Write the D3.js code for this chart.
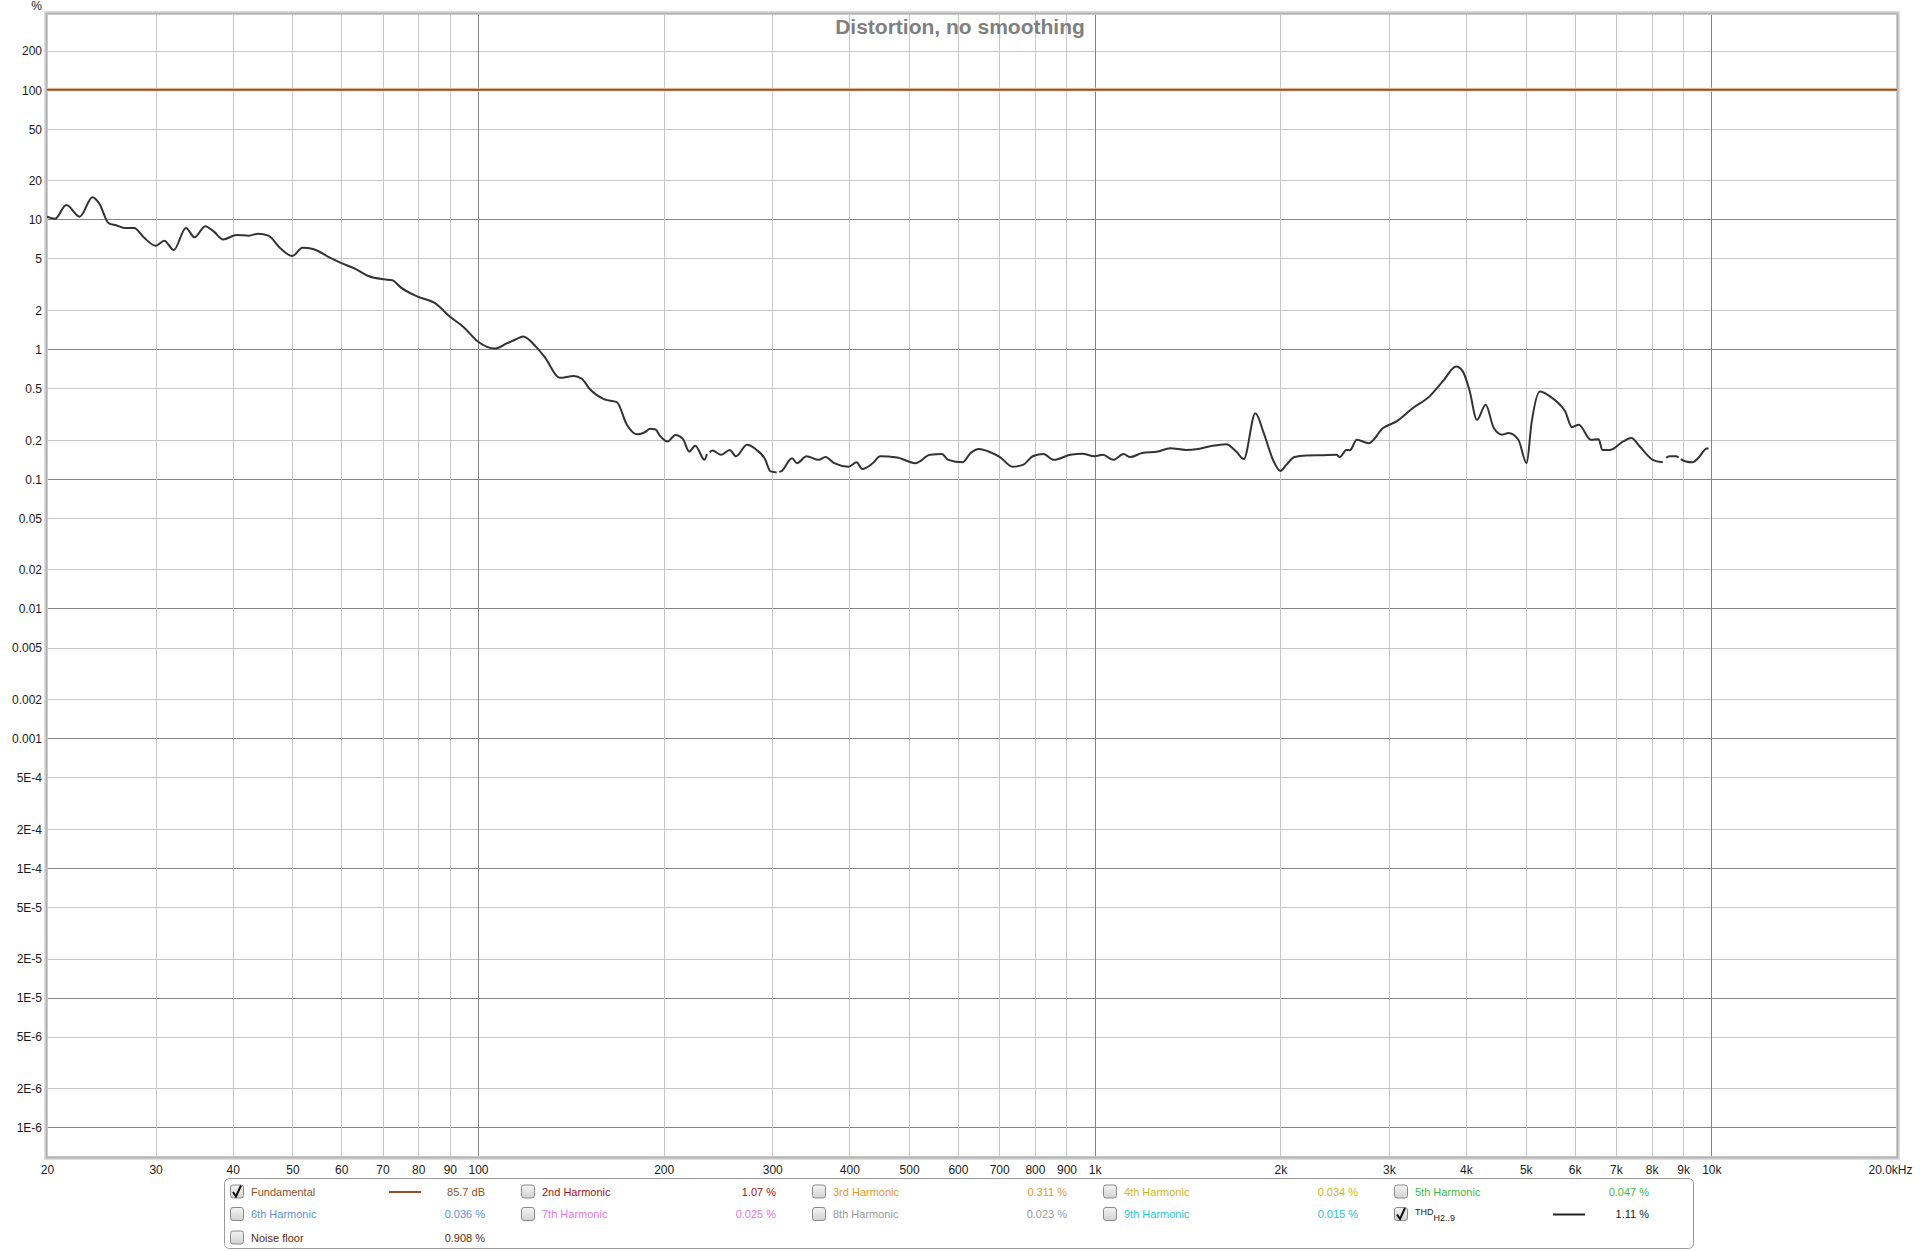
<!DOCTYPE html>
<html>
<head>
<meta charset="utf-8">
<script src="https://cdn.jsdelivr.net/npm/d3@7"></script>
<style>
  body { margin: 0; background: #fff; }
  svg { display: block; font-family: "Liberation Sans", Arial, sans-serif; }
</style>
</head>
<body>
<div id="chart"></div>
<script>
// THD H2..9 trace, frequency (Hz) and level (%), null = gap in trace
var thdFreq = [20, 20.6, 21.5, 22.6, 23.7, 24.3, 25.2, 25.9, 26.7, 27.7, 28.7, 30, 31, 32.1, 33.6, 34.7, 36.1, 37.3, 38.6,
  40.6, 42.5, 44, 45.7, 47.8, 50, 51.9, 54, 57.5, 59.8, 63.5, 66.4, 70.4, 72.6, 74.9, 79.8, 85.2, 89.9, 94.9, 99.8,
  106.6, 111.5, 114.9, 118.4, 124, 128.6, 135.6, 143, 147.3, 151.9, 160.3, 167.9, 174.4, 181.3, 186.9, 190, 194, 197,
  203, 209, 215, 220, 225, 233, 235, 236, 237.5, 240, 248, 256, 262, 273, 283, 292, 298, 305, 306.5, 308, 310, 323, 329, 341, 357,
  366, 378, 399, 411, 420, 436, 449, 478, 512, 541, 565, 579, 611, 629, 650, 671, 702, 736, 765, 795, 826, 858, 913,
  955, 999, 1031, 1072, 1114, 1141, 1194, 1266, 1325, 1407, 1471, 1539, 1634, 1697, 1745, 1822, 1880, 1946, 2000,
  2045, 2109, 2204, 2346, 2467, 2497, 2560, 2593, 2661, 2782, 2935, 3085, 3281, 3491, 3668, 3857, 3953, 4051, 4167,
  4305, 4438, 4576, 4689, 4864, 5017, 5110, 5272, 5473, 5683, 5792, 5941, 6096, 6375, 6567, 6654, 6852, 7195, 7418,
  7648, 8036, 8340, 8400, 8450, 8550, 8764, 8850, 8880, 8920, 9092, 9318, 9530, 9833, 9894];
var thdPct = [10.5, 10.1, 12.9, 10.5, 14.8, 13.3, 9.3, 9.0, 8.6, 8.6, 7.27, 6.27, 6.85, 5.8, 8.6, 7.27, 8.87, 8.04, 7.0,
  7.58, 7.49, 7.76, 7.49, 5.99, 5.22, 6.05, 5.91, 5.07, 4.64, 4.12, 3.66, 3.45, 3.4, 2.99, 2.54, 2.26, 1.79, 1.47, 1.15,
  1.01, 1.11, 1.18, 1.25, 1.05, 0.853, 0.6, 0.62, 0.59, 0.49, 0.41, 0.39, 0.26, 0.22, 0.23, 0.243, 0.24, 0.216,
  0.194, 0.218, 0.202, 0.162, 0.18, 0.14, 0.155, null, 0.16, 0.165, 0.153, 0.167, 0.149, 0.183, 0.167, 0.142, 0.114, 0.112, null, 0.113, 0.114, 0.144, 0.132, 0.149, 0.14,
  0.147, 0.132, 0.124, 0.134, 0.119, 0.131, 0.149, 0.146, 0.132, 0.153, 0.155, 0.14, 0.134, 0.158, 0.17, 0.163, 0.147, 0.124, 0.128, 0.15, 0.155, 0.14, 0.153,
  0.156, 0.149, 0.153, 0.14, 0.155, 0.147, 0.158, 0.162, 0.172, 0.167, 0.17, 0.178, 0.185, 0.162, 0.142, 0.32, 0.225, 0.14, 0.115,
  0.128, 0.147, 0.151, 0.152, 0.153, 0.147, 0.167, 0.166, 0.2, 0.188, 0.246, 0.277, 0.351, 0.432, 0.563, 0.735, 0.673, 0.486, 0.285,
  0.372, 0.246, 0.219, 0.225, 0.2, 0.132, 0.27, 0.471, 0.432, 0.372, 0.331, 0.25, 0.261, 0.2, 0.202, 0.167, 0.167, 0.194, 0.206,
  0.178, 0.14, 0.134, null, 0.145, 0.149, 0.149, 0.146, null, 0.142, 0.136, 0.134, 0.145, 0.171, 0.171];

// Fundamental, 100 % across the band
var fundFreq = [20, 20000];
var fundPct = [100, 100];

// axis ticks
var yTicks = [200, 100, 50, 20, 10, 5, 2, 1, 0.5, 0.2, 0.1, 0.05, 0.02, 0.01, 0.005, 0.002, 0.001,
  5e-4, 2e-4, 1e-4, 5e-5, 2e-5, 1e-5, 5e-6, 2e-6, 1e-6];
var yTickLabels = ["200", "100", "50", "20", "10", "5", "2", "1", "0.5", "0.2", "0.1", "0.05", "0.02", "0.01",
  "0.005", "0.002", "0.001", "5E-4", "2E-4", "1E-4", "5E-5", "2E-5", "1E-5", "5E-6", "2E-6", "1E-6"];
var xTicks = [20, 30, 40, 50, 60, 70, 80, 90, 100, 200, 300, 400, 500, 600, 700, 800, 900,
  1000, 2000, 3000, 4000, 5000, 6000, 7000, 8000, 9000, 10000, 20000];
var xTickLabels = ["20", "30", "40", "50", "60", "70", "80", "90", "100", "200", "300", "400", "500", "600", "700",
  "800", "900", "1k", "2k", "3k", "4k", "5k", "6k", "7k", "8k", "9k", "10k", "20.0kHz"];

// legend
var legendNames = ["Fundamental", "2nd Harmonic", "3rd Harmonic", "4th Harmonic", "5th Harmonic",
  "6th Harmonic", "7th Harmonic", "8th Harmonic", "9th Harmonic", "THD", "Noise floor"];
var legendValues = ["85.7 dB", "1.07 %", "0.311 %", "0.034 %", "0.047 %",
  "0.036 %", "0.025 %", "0.023 %", "0.015 %", "1.11 %", "0.908 %"];
var legendColors = ["#8e5226", "#a3101a", "#e39a2c", "#cdb51c", "#3fba3f",
  "#5f8fd9", "#e277de", "#9a9a9a", "#1fc6d6", "#222222", "#5a2c12"];
var legendChecked = [true, false, false, false, false, false, false, false, false, true, false];

var width = 1920, height = 1251;
var pLeft = 47, pRight = 1897, pTop = 14, pBottom = 1157;

var svg = d3.select("#chart").append("svg")
  .attr("width", width).attr("height", height);

var x = d3.scaleLog().domain([20, 20000]).range([pLeft, pRight]);
var y = d3.scaleLog().domain([383.3, 5.9e-7]).range([pTop, pBottom]);

function isDecade(v) {
  var l = Math.log10(v);
  return Math.abs(l - Math.round(l)) < 1e-6;
}

// plot background
svg.append("rect").attr("x", pLeft).attr("y", pTop)
  .attr("width", pRight - pLeft).attr("height", pBottom - pTop).attr("fill", "#fff");

// grid
var grid = svg.append("g");
grid.selectAll(".hg").data(yTicks.slice().sort(function (a, b) { return isDecade(a) - isDecade(b); }))
  .enter().append("line")
  .attr("x1", pLeft).attr("x2", pRight)
  .attr("y1", function (d) { return Math.round(y(d)) + 0.5; })
  .attr("y2", function (d) { return Math.round(y(d)) + 0.5; })
  .attr("stroke", function (d) { return isDecade(d) ? "#858585" : "#c6c6c6"; })
  .attr("stroke-width", 1);

var vTicks = xTicks.filter(function (d) { return d > 20 && d < 20000; })
  .sort(function (a, b) { return isDecade(a) - isDecade(b); });
grid.selectAll(".vg").data(vTicks)
  .enter().append("line")
  .attr("y1", pTop).attr("y2", pBottom)
  .attr("x1", function (d) { return Math.round(x(d)) + 0.5; })
  .attr("x2", function (d) { return Math.round(x(d)) + 0.5; })
  .attr("stroke", function (d) { return isDecade(d) ? "#858585" : "#c6c6c6"; })
  .attr("stroke-width", 1);

// frame
svg.append("rect").attr("x", pLeft - 1).attr("y", pTop - 1)
  .attr("width", pRight - pLeft + 2).attr("height", pBottom - pTop + 2)
  .attr("fill", "none").attr("stroke", "#dedede").attr("stroke-width", 4);
svg.append("rect").attr("x", pLeft - 0.5).attr("y", pTop - 0.5)
  .attr("width", pRight - pLeft + 1).attr("height", pBottom - pTop + 1)
  .attr("fill", "none").attr("stroke", "#b3b3b3").attr("stroke-width", 2);

// y axis
var yAxis = d3.axisLeft(y).tickValues(yTicks).tickSize(0).tickPadding(0)
  .tickFormat(function (d, i) { return yTickLabels[i]; });
var gy = svg.append("g").attr("transform", "translate(42,0)").call(yAxis);
gy.select(".domain").remove();
gy.selectAll("text").attr("font-size", 12).attr("fill", "#1a1a1a")
  .attr("font-family", "'Liberation Sans', Arial, sans-serif").attr("dy", "0.36em");

svg.append("text").attr("x", 42).attr("y", 10).attr("text-anchor", "end")
  .attr("font-size", 12).attr("fill", "#1a1a1a").text("%");

// x axis
var xAxis = d3.axisBottom(x).tickValues(xTicks).tickSize(0).tickPadding(0)
  .tickFormat(function (d, i) { return xTickLabels[i]; });
var gx = svg.append("g").attr("transform", "translate(0,1163)").call(xAxis);
gx.select(".domain").remove();
gx.selectAll("text").attr("font-size", 12).attr("fill", "#1a1a1a")
  .attr("font-family", "'Liberation Sans', Arial, sans-serif").attr("dy", "0.9em");
gx.selectAll(".tick").filter(function (d) { return d === 20000; }).select("text")
  .attr("text-anchor", "end").attr("x", 15);

// title
svg.append("text").attr("x", 960).attr("y", 34).attr("text-anchor", "middle")
  .attr("font-size", 21).attr("font-weight", "bold").attr("fill", "#7f7f7f")
  .text("Distortion, no smoothing");

// curves
svg.append("clipPath").attr("id", "plotclip").append("rect")
  .attr("x", pLeft).attr("y", pTop).attr("width", pRight - pLeft).attr("height", pBottom - pTop);

var line = d3.line()
  .defined(function (d) { return d[1] != null; })
  .x(function (d) { return x(d[0]); })
  .y(function (d) { return y(d[1]); })
  .curve(d3.curveMonotoneX);

var fundData = d3.zip(fundFreq, fundPct);
var plot = svg.append("g").attr("clip-path", "url(#plotclip)");
plot.append("path").datum(fundData).attr("d", line)
  .attr("fill", "none").attr("stroke", "#f6dcc4").attr("stroke-width", 4);
plot.append("path").datum(fundData).attr("d", line)
  .attr("fill", "none").attr("stroke", legendColors[0]).attr("stroke-width", 2);

var thdData = d3.zip(thdFreq, thdPct);
plot.append("path").datum(thdData).attr("d", line)
  .attr("fill", "none").attr("stroke", "#333").attr("stroke-width", 2)
  .attr("stroke-linejoin", "round");

// legend
var lg = svg.append("g");
lg.append("rect").attr("x", 224.5).attr("y", 1178.5).attr("width", 1469).attr("height", 70)
  .attr("rx", 5).attr("fill", "#fff").attr("stroke", "#9a9a9a");

var defs = svg.append("defs");
var grad = defs.append("linearGradient").attr("id", "cbgrad").attr("x1", 0).attr("y1", 0).attr("x2", 0).attr("y2", 1);
grad.append("stop").attr("offset", "0%").attr("stop-color", "#f4f4f4");
grad.append("stop").attr("offset", "100%").attr("stop-color", "#d2d2d2");

var rowY = [1191.5, 1214, 1237.5];
var items = legendNames.map(function (n, i) {
  return { name: n, value: legendValues[i], color: legendColors[i], checked: legendChecked[i],
    col: i % 5, row: Math.floor(i / 5) };
});

var it = lg.selectAll(".item").data(items).enter().append("g")
  .attr("transform", function (d) { return "translate(" + (230 + d.col * 291) + "," + rowY[d.row] + ")"; });

it.append("rect").attr("x", 0.5).attr("y", -6.5).attr("width", 13).attr("height", 13).attr("rx", 2.5)
  .attr("fill", "url(#cbgrad)").attr("stroke", "#8a8a8a");
it.filter(function (d) { return d.checked; }).append("path")
  .attr("d", "M3,0.5 L6,5 L11,-6")
  .attr("fill", "none").attr("stroke", "#111").attr("stroke-width", 2);

it.append("text").attr("x", 21).attr("y", 4).attr("font-size", 11)
  .attr("fill", function (d) { return d.color; })
  .each(function (d) {
    var t = d3.select(this);
    if (d.name === "THD") {
      t.append("tspan").attr("font-size", 9).attr("dy", -3).text("THD");
      t.append("tspan").attr("font-size", 9).attr("dy", 6).text("H2..9");
    } else {
      t.text(d.name);
    }
  });

it.filter(function (d) { return d.checked; }).append("line")
  .attr("x1", 159).attr("x2", 191).attr("y1", 0.5).attr("y2", 0.5)
  .attr("stroke", function (d) { return d.color; }).attr("stroke-width", 2);

it.append("text").attr("x", 255).attr("y", 4).attr("text-anchor", "end").attr("font-size", 11)
  .attr("fill", function (d) { return d.color; })
  .text(function (d) { return d.value; });
</script>
</body>
</html>
